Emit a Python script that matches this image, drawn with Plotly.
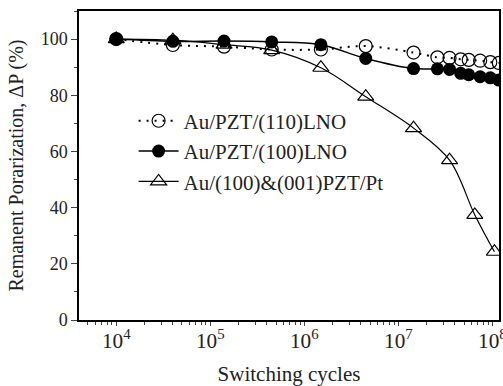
import plotly.graph_objects as go

cycles_a = [1e4, 4e4, 1.4e5, 4.5e5, 1.5e6, 4.5e6, 1.45e7, 2.6e7, 3.5e7, 4.6e7, 5.6e7, 7.4e7, 9.5e7, 1.17e8]
p_110lno = [100, 97.9, 97.3, 96.3, 96.3, 97.5, 95.2, 93.5, 93.3, 92.8, 92.6, 92.3, 91.8, 91.5]
p_100lno = [100, 99.2, 99.3, 99.0, 98.0, 93.1, 89.5, 89.4, 89.2, 87.8, 87.3, 86.6, 86.2, 85.4]

cycles_b = [1e4, 4e4, 1.4e5, 4.5e5, 1.5e6, 4.5e6, 1.45e7, 3.5e7, 6.5e7, 1.05e8]
p_pt = [100, 99.6, 98.0, 96.1, 89.8, 79.5, 68.3, 56.9, 37.4, 24.3]

names = ["Au/PZT/(110)LNO", "Au/PZT/(100)LNO", "Au/(100)&(001)PZT/Pt"]

font = "Liberation Serif"
fig = go.Figure()
fig.add_trace(go.Scatter(x=cycles_a, y=p_110lno, name=names[0], mode="lines+markers",
                         line=dict(color="black", width=2, dash="2px,6px", shape="spline"),
                         marker=dict(symbol="circle-open", size=13, color="black", line=dict(width=1.2))))
fig.add_trace(go.Scatter(x=cycles_a, y=p_100lno, name=names[1], mode="lines+markers",
                         line=dict(color="black", width=1.5, shape="spline"),
                         marker=dict(symbol="circle", size=13, color="black")))
fig.add_trace(go.Scatter(x=cycles_b, y=p_pt, name=names[2], mode="lines+markers",
                         line=dict(color="black", width=1.2, shape="spline"),
                         marker=dict(symbol="triangle-up-open", size=14, color="black", line=dict(width=1.2))))

fig.update_layout(
    width=503, height=386,
    margin=dict(l=79, r=4, t=11, b=66),
    paper_bgcolor="white", plot_bgcolor="white",
    font=dict(family=font, size=18, color="#222"),
    showlegend=True,
    legend=dict(x=0.13, y=0.71, xanchor="left", yanchor="top", bgcolor="rgba(0,0,0,0)",
                font=dict(size=21, family=font), tracegroupgap=0, itemwidth=40),
    xaxis=dict(type="log", range=[3.604, 8.07], dtick=1, exponentformat="power",
               showgrid=False, ticks="outside", ticklen=4, showline=True, linecolor="black",
               linewidth=1.5, mirror=True, zeroline=False, automargin=False,
               tickfont=dict(size=17), ticklabelstandoff=-2, ticklabeloverflow="allow",
               minor=dict(ticks="outside", ticklen=3, showgrid=False),
               title=dict(text="Switching cycles", font=dict(size=21), standoff=17)),
    yaxis=dict(range=[0, 110], tickvals=[0, 20, 40, 60, 80, 100], showgrid=False,
               ticks="outside", ticklen=6, showline=True, linecolor="black", linewidth=1.5,
               mirror=True, zeroline=False, automargin=False,
               minor=dict(ticks="outside", ticklen=3, dtick=10, showgrid=False),
               title=dict(text="Remanent Porarization, ΔP (%)", font=dict(size=20), standoff=12)),
)
fig.write_html("out.html", config={"displayModeBar": False},
               post_script="document.body.style.margin='0';document.body.style.overflow='hidden';")
